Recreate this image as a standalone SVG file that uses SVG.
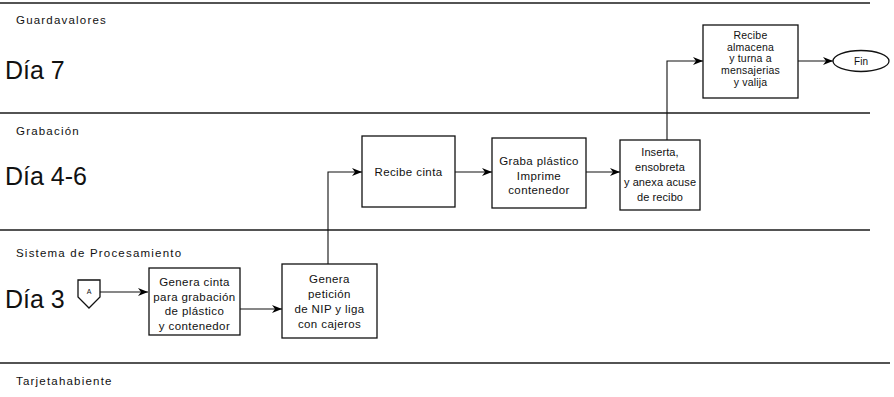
<svg xmlns="http://www.w3.org/2000/svg" width="894" height="397" viewBox="0 0 894 397">
  <defs>
    <marker id="arr" viewBox="0 0 10 8" refX="10" refY="4" markerWidth="10" markerHeight="8" markerUnits="userSpaceOnUse" orient="auto">
      <path d="M0,0 L10,4 L0,8 L3,4 z" fill="#000"/>
    </marker>
    <style>
      .lane { stroke: #1a1a1a; stroke-width: 1.6; fill: none; }
      .box { fill: #fff; stroke: #111; stroke-width: 1.3; }
      .conn { fill: none; stroke: #111; stroke-width: 1.1; marker-end: url(#arr); }
      .lbl { font-family: "Liberation Sans", Arial, sans-serif; font-size: 11.5px; letter-spacing: 1.2px; fill: #111; }
      .day { font-family: "Liberation Sans", Arial, sans-serif; font-size: 25px; fill: #111; }
      .t { font-family: "Liberation Sans", Arial, sans-serif; font-size: 11.5px; letter-spacing: 0.4px; fill: #111; text-anchor: middle; }
      .tn { font-family: "Liberation Sans", Arial, sans-serif; font-size: 11px; letter-spacing: 0.1px; fill: #111; text-anchor: middle; }
      .ts { font-family: "Liberation Sans", Arial, sans-serif; font-size: 10.5px; letter-spacing: 0.2px; fill: #111; text-anchor: middle; }
    </style>
  </defs>

  <g id="lanes">
    <line class="lane" x1="0" y1="3" x2="870" y2="3"/>
    <line class="lane" x1="0" y1="113" x2="870" y2="113"/>
    <line class="lane" x1="0" y1="230" x2="870" y2="230"/>
    <line class="lane" x1="0" y1="363" x2="890" y2="363"/>
    <text class="lbl" x="16" y="24">Guardavalores</text>
    <text class="day" x="5" y="79">Día 7</text>
    <text class="lbl" x="16" y="135">Grabación</text>
    <text class="day" x="5" y="185">Día 4-6</text>
    <text class="lbl" x="16" y="257">Sistema de Procesamiento</text>
    <text class="day" x="5" y="308">Día 3</text>
    <text class="lbl" x="16" y="385">Tarjetahabiente</text>
  </g>

  <g id="connectors">
    <path class="conn" d="M100,292 H148"/>
    <path class="conn" d="M240,309 H282"/>
    <path class="conn" d="M328,264 V172 H362"/>
    <path class="conn" d="M455,172 H492"/>
    <path class="conn" d="M586,172 H620"/>
    <path class="conn" d="M667,140 V61 H703"/>
    <path class="conn" d="M798,61 H833"/>
  </g>

  <g id="node-a">
    <path class="box" d="M78,280 H100 V297 L89,308 L78,297 Z"/>
    <text x="89" y="294" font-family="Liberation Sans, Arial, sans-serif" font-size="7" text-anchor="middle" fill="#111">A</text>
  </g>

  <g id="node-genera-cinta">
    <rect class="box" x="149" y="268" width="91" height="67"/>
    <text class="t" x="194.5" y="286">Genera cinta</text>
    <text class="t" x="194.5" y="300.5">para grabación</text>
    <text class="t" x="194.5" y="315">de plástico</text>
    <text class="t" x="194.5" y="329.5">y contenedor</text>
  </g>

  <g id="node-genera-peticion">
    <rect class="box" x="282" y="264" width="95" height="74"/>
    <text class="t" x="329.5" y="283">Genera</text>
    <text class="t" x="329.5" y="298">petición</text>
    <text class="t" x="329.5" y="313">de NIP y liga</text>
    <text class="t" x="329.5" y="328">con cajeros</text>
  </g>

  <g id="node-recibe-cinta">
    <rect class="box" x="362" y="136" width="93" height="71"/>
    <text class="t" x="408.5" y="176">Recibe cinta</text>
  </g>

  <g id="node-graba">
    <rect class="box" x="492" y="138" width="94" height="70"/>
    <text class="t" x="539" y="165">Graba plástico</text>
    <text class="t" x="539" y="179.5">Imprime</text>
    <text class="t" x="539" y="194">contenedor</text>
  </g>

  <g id="node-inserta">
    <rect class="box" x="620" y="140" width="80" height="70"/>
    <text class="tn" x="660" y="156">Inserta,</text>
    <text class="tn" x="660" y="171">ensobreta</text>
    <text class="tn" x="660" y="186">y anexa acuse</text>
    <text class="tn" x="660" y="201">de recibo</text>
  </g>

  <g id="node-recibe-almacena">
    <rect class="box" x="703" y="25" width="95" height="73"/>
    <text class="ts" x="750.5" y="39">Recibe</text>
    <text class="ts" x="750.5" y="50.5">almacena</text>
    <text class="ts" x="750.5" y="62">y  turna a</text>
    <text class="ts" x="750.5" y="74">mensajerias</text>
    <text class="ts" x="750.5" y="85.5">y valija</text>
  </g>

  <g id="node-fin">
    <ellipse class="box" cx="861" cy="61" rx="28" ry="10.5"/>
    <text x="861" y="65" font-family="Liberation Sans, Arial, sans-serif" font-size="10" text-anchor="middle" fill="#111">Fin</text>
  </g>
</svg>
